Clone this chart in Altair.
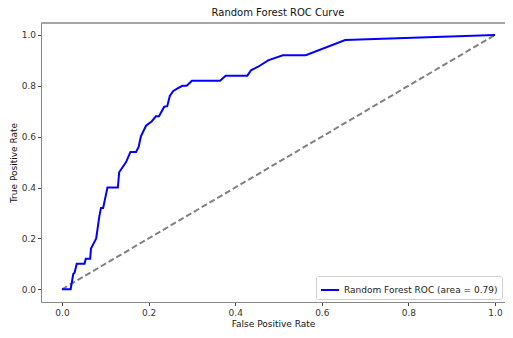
import altair as alt
import pandas as pd

fpr = [0, 0.02, 0.026, 0.029, 0.034, 0.052, 0.055, 0.065, 0.067, 0.079, 0.086, 0.09, 0.095,
       0.105, 0.129, 0.132, 0.148, 0.158, 0.171, 0.177, 0.182, 0.194, 0.207, 0.217, 0.224,
       0.236, 0.243, 0.249, 0.257, 0.267, 0.278, 0.288, 0.30, 0.365, 0.378, 0.428, 0.437,
       0.453, 0.476, 0.51, 0.563, 0.654, 1.0]
tpr = [0, 0, 0.06, 0.065, 0.10, 0.10, 0.12, 0.12, 0.16, 0.20, 0.285, 0.32, 0.32,
       0.40, 0.40, 0.46, 0.50, 0.54, 0.54, 0.56, 0.60, 0.643, 0.66, 0.68, 0.68,
       0.718, 0.72, 0.76, 0.78, 0.79, 0.80, 0.80, 0.82, 0.82, 0.84, 0.84, 0.862,
       0.875, 0.90, 0.92, 0.92, 0.98, 1.0]
series_name = "Random Forest ROC (area = 0.79)"
diag = [0, 1]
x_ticks = [0.0, 0.2, 0.4, 0.6, 0.8, 1.0]
y_ticks = [0.0, 0.2, 0.4, 0.6, 0.8, 1.0]

df = pd.DataFrame({"fpr": fpr, "tpr": tpr, "i": list(range(len(fpr))),
                   "series": [series_name] * len(fpr)})
ddf = pd.DataFrame({"fpr": diag, "tpr": diag})

FONT = "DejaVu Sans"
W, H = 464, 279
xscale = alt.Scale(domain=[-0.0485, 1.0231], nice=False, zero=False)
yscale = alt.Scale(domain=[-0.05, 1.047], nice=False, zero=False)


def xaxis():
    return alt.Axis(values=x_ticks, format=".1f", labelExpr="format(datum.value, '.1f')",
                    title="False Positive Rate", grid=False,
                    domainColor="#888", tickColor="#444", tickSize=3.5, labelPadding=3,
                    titlePadding=2)


def yaxis():
    return alt.Axis(values=y_ticks, format=".1f", labelExpr="format(datum.value, '.1f')",
                    title="True Positive Rate", grid=False,
                    domainColor="#888", tickColor="#444", tickSize=3.5, labelPadding=2,
                    titlePadding=3)


diag_line = alt.Chart(ddf).mark_line(color="#808080", strokeWidth=2, strokeDash=[6, 3]).encode(
    x=alt.X("fpr:Q", scale=xscale, axis=xaxis()),
    y=alt.Y("tpr:Q", scale=yscale, axis=yaxis()),
)

roc = alt.Chart(df).mark_line(strokeWidth=2).encode(
    x=alt.X("fpr:Q", scale=xscale, axis=xaxis()),
    y=alt.Y("tpr:Q", scale=yscale, axis=yaxis()),
    order=alt.Order("i:Q"),
    color=alt.Color("series:N", scale=alt.Scale(range=["#0000ff"]),
                    legend=alt.Legend(title=None, orient="bottom-right", symbolType="stroke",
                                      symbolStrokeWidth=2, symbolSize=324,
                                      fillColor="white", strokeColor="#d0d0d0",
                                      padding=4, cornerRadius=2, offset=3,
                                      labelFontSize=9, labelFont=FONT, labelColor="#222")),
)

top_frame = alt.Chart(ddf).mark_rule(color="#888", strokeWidth=1).encode(
    x=alt.value(0), x2=alt.value(W), y=alt.value(0)
)

chart = alt.layer(diag_line, roc, top_frame).properties(
    width=W, height=H,
    autosize="none",
    padding={"left": 33, "top": 15, "right": 0, "bottom": 28},
    title=alt.TitleParams("Random Forest ROC Curve", font=FONT, fontSize=10,
                          fontWeight="normal", color="#111", offset=5, dx=5),
).configure_view(stroke=None).configure_axis(
    labelFont=FONT, labelFontSize=9, labelColor="#333",
    titleFont=FONT, titleFontSize=9, titleFontWeight="normal", titleColor="#111"
)

chart.save("out.html", embed_options={"renderer": "svg", "actions": False})
